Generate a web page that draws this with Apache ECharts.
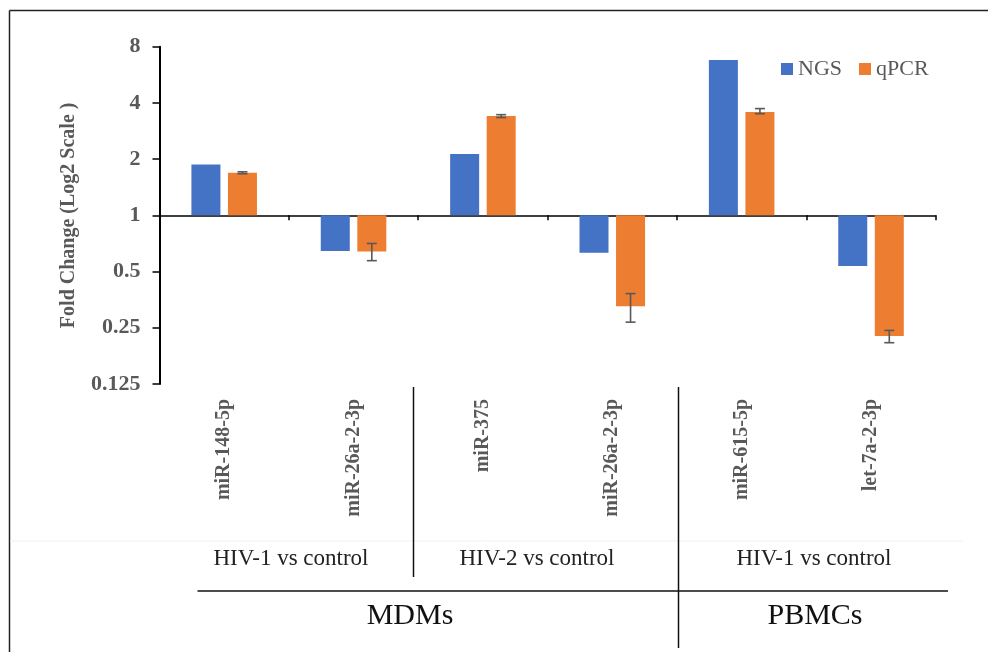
<!DOCTYPE html>
<html>
<head>
<meta charset="utf-8">
<script src="https://cdn.jsdelivr.net/npm/echarts@6/dist/echarts.min.js"></script>
<style>
html,body{margin:0;padding:0;background:#fff;}
#chart{width:988px;height:652px;}
</style>
</head>
<body>
<div id="chart"></div>
<script>
// ---- data ----
const categories = ['miR-148-5p', 'miR-26a-2-3p', 'miR-375', 'miR-26a-2-3p', 'miR-615-5p', 'let-7a-2-3p'];
const ngsValues  = [1.87, 0.645, 2.13, 0.631, 6.79, 0.536];
const qpcrValues = [1.69, 0.641, 3.40, 0.326, 3.58, 0.226];
const qpcrErrLow  = [1.67, 0.572, 3.34, 0.268, 3.50, 0.208];
const qpcrErrHigh = [1.71, 0.707, 3.46, 0.381, 3.73, 0.242];
const yTicks = [0.125, 0.25, 0.5, 1, 2, 4, 8];
const comparisonLabels = ['HIV-1 vs control', 'HIV-2 vs control', 'HIV-1 vs control'];
const cellLabels = ['MDMs', 'PBMCs'];
const seriesNames = ['NGS', 'qPCR'];

// ---- layout ----
const GRID_LEFT = 159.5, GRID_TOP = 46.7, GRID_W = 776.2, GRID_H = 337.3;
const BAR_W = 29, BAR_GAP = 0.26;
const OFFSET = (BAR_W + BAR_W * BAR_GAP) / 2;
const SERIF = '"Liberation Serif", "Times New Roman", serif';
const GRAY = '#595959';

const chart = echarts.init(document.getElementById('chart'), null, {renderer: 'canvas'});

const errData = categories.map((c, i) => [i, qpcrErrLow[i], qpcrErrHigh[i]]);

const option = {
  animation: false,
  backgroundColor: '#fff',
  grid: {left: GRID_LEFT, top: GRID_TOP, width: GRID_W, height: GRID_H, containLabel: false},
  legend: {
    data: seriesNames,
    left: 776, top: 53,
    itemWidth: 12, itemHeight: 12, itemGap: 17,
    icon: 'rect',
    textStyle: {fontFamily: SERIF, fontSize: 22, color: GRAY}
  },
  xAxis: [
    {
      type: 'category', data: categories, position: 'bottom', offset: -GRID_H / 2,
      axisLine: {onZero: false, lineStyle: {color: '#000', width: 1.5}},
      axisTick: {show: true, length: 5, lineStyle: {color: '#000', width: 1.5}},
      axisLabel: {show: false}, splitLine: {show: false}
    },
    {
      type: 'category', data: categories, position: 'bottom', offset: 0,
      axisLine: {show: false}, axisTick: {show: false}, splitLine: {show: false},
      axisLabel: {rotate: 90, margin: 15, interval: 0, fontFamily: SERIF, fontWeight: 'bold', fontSize: 20, color: GRAY}
    }
  ],
  yAxis: {
    type: 'log', logBase: 2, min: yTicks[0], max: yTicks[yTicks.length - 1], interval: 1,
    name: 'Fold Change (Log2 Scale )', nameLocation: 'middle', nameRotate: 90, nameGap: 81,
    nameTextStyle: {fontFamily: SERIF, fontWeight: 'bold', fontSize: 20, color: GRAY},
    axisLine: {show: true, lineStyle: {color: '#000', width: 2}},
    axisTick: {show: true, length: 7, lineStyle: {color: '#000', width: 1.5}},
    axisLabel: {margin: 19, fontFamily: SERIF, fontWeight: 'bold', fontSize: 22, color: GRAY,
      formatter: v => String(Number(v.toPrecision(6)))},
    splitLine: {show: false}
  },
  series: [
    {name: seriesNames[0], type: 'bar', xAxisIndex: 0, data: ngsValues, barWidth: BAR_W, barGap: (BAR_GAP * 100) + '%',
     itemStyle: {color: '#4472C4'}},
    {name: seriesNames[1], type: 'bar', xAxisIndex: 0, data: qpcrValues, barWidth: BAR_W, barGap: (BAR_GAP * 100) + '%',
     itemStyle: {color: '#ED7D31'}},
    {
      name: 'err', type: 'custom', xAxisIndex: 0, z: 10, data: errData,
      encode: {x: 0, y: [1, 2]},
      renderItem: function (params, api) {
        const i = api.value(0);
        const pLo = api.coord([i, api.value(1)]);
        const pHi = api.coord([i, api.value(2)]);
        const x = pLo[0] + OFFSET;
        const cap = 5;
        const st = {stroke: GRAY, lineWidth: 1.6};
        return {type: 'group', children: [
          {type: 'line', shape: {x1: x, y1: pLo[1], x2: x, y2: pHi[1]}, style: st},
          {type: 'line', shape: {x1: x - cap, y1: pLo[1], x2: x + cap, y2: pLo[1]}, style: st},
          {type: 'line', shape: {x1: x - cap, y1: pHi[1], x2: x + cap, y2: pHi[1]}, style: st}
        ]};
      }
    }
  ],
  graphic: [
    // outer frame (left + top)
    {type: 'line', shape: {x1: 9.5, y1: 10.5, x2: 988, y2: 10.5}, style: {stroke: '#222', lineWidth: 1.5}},
    {type: 'line', shape: {x1: 9.5, y1: 10.5, x2: 9.5, y2: 652}, style: {stroke: '#222', lineWidth: 1.5}},
    // faint band edge
    {type: 'line', shape: {x1: 10, y1: 541, x2: 963, y2: 541}, style: {stroke: '#f1f1f1', lineWidth: 1}},
    // separators
    {type: 'line', shape: {x1: 413.5, y1: 387, x2: 413.5, y2: 577}, style: {stroke: '#111', lineWidth: 1.5}},
    {type: 'line', shape: {x1: 678.5, y1: 387, x2: 678.5, y2: 648}, style: {stroke: '#111', lineWidth: 1.5}},
    {type: 'line', shape: {x1: 197.5, y1: 591, x2: 948, y2: 591}, style: {stroke: '#111', lineWidth: 1.5}},
    // comparison labels
    {type: 'text', x: 291, y: 559, style: {text: comparisonLabels[0], fontFamily: SERIF, fontSize: 23, fill: '#222', align: 'center', verticalAlign: 'middle'}},
    {type: 'text', x: 537, y: 559, style: {text: comparisonLabels[1], fontFamily: SERIF, fontSize: 23, fill: '#222', align: 'center', verticalAlign: 'middle'}},
    {type: 'text', x: 814, y: 559, style: {text: comparisonLabels[2], fontFamily: SERIF, fontSize: 23, fill: '#222', align: 'center', verticalAlign: 'middle'}},
    // cell labels
    {type: 'text', x: 410, y: 616, style: {text: cellLabels[0], fontFamily: SERIF, fontSize: 30, fill: '#111', align: 'center', verticalAlign: 'middle'}},
    {type: 'text', x: 815, y: 616, style: {text: cellLabels[1], fontFamily: SERIF, fontSize: 30, fill: '#111', align: 'center', verticalAlign: 'middle'}}
  ]
};
chart.setOption(option);
</script>
</body>
</html>
